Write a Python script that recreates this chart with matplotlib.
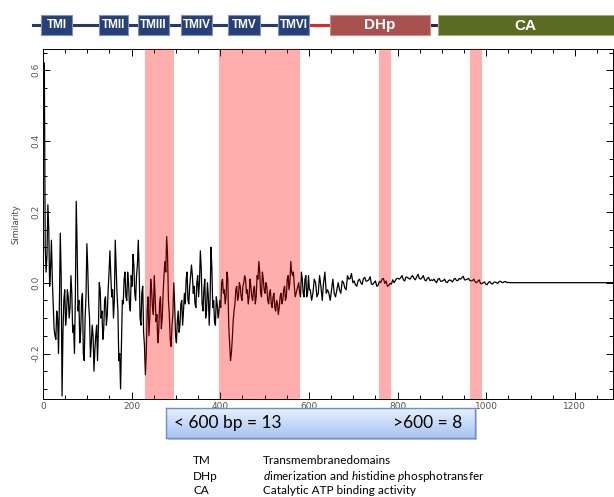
import numpy as np
import matplotlib.pyplot as plt
from matplotlib.patches import Rectangle
from matplotlib.colors import LinearSegmentedColormap
from matplotlib.ticker import MultipleLocator, FormatStrFormatter

plt.rcParams['mathtext.fontset'] = 'custom'
plt.rcParams['mathtext.rm'] = 'Lato'
plt.rcParams['mathtext.it'] = 'Lato:italic'

# similarity values
# x = 3, 7, 11 ... 599
sim_a = [0.62, 0.03, 0.22, -0.01, 0.12, -0.06, -0.15, -0.08, -0.20, 0.14,
         -0.32, -0.05, -0.12, -0.02, -0.10, 0.02, -0.14, -0.20, 0.23, -0.08,
         -0.17, -0.05, -0.20, -0.10, 0.11, -0.06, -0.21, -0.12, -0.25, -0.15,
         -0.22, 0.00, -0.10, -0.16, -0.05, -0.12, -0.02, 0.09, -0.04, -0.10,
         0.12, -0.03, -0.22, -0.30, -0.05, 0.01, -0.04, 0.03, -0.06, 0.02,
         0.08, -0.03, 0.02, 0.12, -0.10, -0.03, -0.14, -0.26, -0.08, -0.15,
         0.01, -0.07, 0.02, -0.11, -0.17, -0.06, -0.13, -0.03, 0.06, 0.13,
         -0.05, -0.16, -0.12, 0.00, -0.15, -0.11, -0.14, -0.06, -0.12, -0.03,
         0.01, -0.05, -0.01, 0.05, -0.03, -0.06, 0.00, -0.04, 0.09, -0.06,
         -0.02, -0.10, 0.00, -0.12, 0.10, -0.07, -0.11, -0.04, -0.10, -0.05,
         0.00, -0.03, -0.06, 0.03, -0.12, -0.22, -0.16, -0.08, -0.02, -0.05,
         0.00, -0.04, -0.01, 0.02, -0.03, -0.06, 0.01, -0.04, -0.02, -0.06,
         0.02, 0.06, -0.03, 0.03, -0.02, 0.00, -0.05, -0.03, -0.06, -0.04,
         -0.07, -0.05, -0.09, -0.04, -0.06, -0.02, -0.05, 0.01, -0.02, 0.06,
         0.02, -0.01, -0.03, -0.01, -0.03, 0.03, -0.03, 0.01, -0.04, 0.02]
# x = 5, 9, 13 ... 601
sim_a_mid = [0.10, 0.08, 0.15, 0.04, 0.01, -0.13, -0.16, -0.10, -0.06, 0.02,
             -0.14, -0.02, -0.09, -0.04, -0.07, -0.03, -0.12, -0.04, 0.10, -0.05,
             -0.14, -0.03, -0.22, -0.04, 0.04, -0.10, -0.17, -0.15, -0.19, -0.12,
             -0.13, -0.02, -0.08, -0.13, -0.04, -0.09, 0.03, 0.02, -0.02, -0.05,
             0.04, -0.08, -0.20, -0.18, -0.06, 0.03, -0.05, 0.00, -0.08, -0.01,
             0.05, -0.05, 0.05, 0.03, -0.12, -0.01, -0.18, -0.20, -0.04, -0.10,
             -0.02, -0.09, -0.04, -0.09, -0.14, -0.04, -0.10, 0.02, 0.03, 0.08,
             -0.09, -0.18, -0.09, -0.06, -0.17, -0.08, -0.12, -0.05, -0.08, -0.06,
             0.03, -0.06, 0.02, 0.02, -0.01, -0.07, 0.02, 0.00, 0.04, -0.08,
             0.01, -0.08, -0.04, -0.05, 0.04, -0.05, -0.12, -0.06, -0.08, -0.07,
             0.01, -0.02, -0.04, 0.01, -0.17, -0.20, -0.11, -0.06, -0.01, -0.04,
             -0.01, -0.05, 0.00, 0.01, -0.02, -0.04, -0.01, -0.05, -0.01, -0.04,
             0.01, 0.03, -0.04, 0.01, -0.03, -0.01, -0.06, -0.02, -0.07, -0.03,
             -0.08, -0.06, -0.07, -0.03, -0.05, -0.01, -0.04, 0.02, 0.00, 0.03,
             0.03, -0.04, -0.02, 0.00, -0.04, 0.01, -0.04, 0.02, -0.03, -0.02]
# x = 606, 612 ... 1050
sim_b = [-0.05, 0.01, -0.04, 0.02, -0.05, 0.03, -0.02, -0.05, 0.01, -0.04,
         0.00, -0.03, 0.00, -0.02, 0.01, 0.026, 0.005, -0.01, 0.01, -0.005,
         0.015, 0.005, 0.017, -0.005, 0.005, -0.008, 0.0, 0.012, 0.005, -0.008,
         -0.004, 0.0, 0.012, 0.01, 0.02, 0.005, 0.015, 0.01, 0.02, 0.008,
         0.024, 0.01, 0.02, 0.005, 0.015, 0.008, 0.01, 0.0, 0.012, 0.004,
         0.01, 0.0, 0.008, 0.002, 0.012, 0.006, 0.01, 0.018, 0.008, 0.012,
         0.005, 0.01, 0.0, 0.008, -0.003, 0.002, -0.006, 0.003, -0.004, 0.002,
         -0.002, 0.004, 0.0, 0.003, 0.001]
# x = 603, 609 ... 1047
sim_b_mid = [-0.02, -0.03, 0.00, -0.03, -0.01, 0.00, -0.03, -0.03, -0.02, -0.03,
             -0.02, -0.02, 0.005, -0.015, 0.02, 0.012, 0.0, -0.006, 0.006, 0.0,
             0.012, 0.004, 0.008, -0.004, 0.0, -0.01, 0.004, 0.01, -0.002, -0.01,
             -0.002, 0.008, 0.006, 0.012, 0.014, 0.008, 0.016, 0.012, 0.016, 0.012,
             0.016, 0.012, 0.014, 0.008, 0.012, 0.006, 0.006, 0.004, 0.01, 0.004,
             0.006, 0.002, 0.006, 0.005, 0.01, 0.006, 0.012, 0.014, 0.008, 0.01,
             0.006, 0.006, 0.002, 0.004, -0.002, 0.0, -0.004, 0.001, -0.002, 0.001,
             0.0, 0.003, 0.001, 0.003, 0.0]
pos_a = np.arange(3, 602, 2)
pos_b = np.arange(603, 1051, 3)
tail_pos = [1053, 1290]
tail_sim = [0.0, 0.0]

spans = [(230, 295), (397, 580), (758, 785), (963, 990)]

# domain bar (pixel coords of the header)
tm_names = ['TMI', 'TMII', 'TMIII', 'TMIV', 'TMV', 'TMVI']
tm_x = [(41, 72), (99, 128), (138, 169), (181, 212), (228, 260), (278, 309)]

fig = plt.figure(figsize=(6.14, 4.97), dpi=100)

# overlay in pixel coordinates for the annotations
ov = fig.add_axes([0, 0, 1, 1], zorder=0)
ov.set_xlim(0, 614)
ov.set_ylim(497, 0)
ov.axis('off')

ov.plot([33, 310], [25, 25], color='#283a6c', lw=2.2, zorder=1)
ov.plot([309, 331], [25, 25], color='#e02828', lw=2.2, zorder=1)
ov.plot([430, 439], [25, 25], color='#3a1d5c', lw=2.2, zorder=1)
for name, (a, b) in zip(tm_names, tm_x):
    ov.add_patch(Rectangle((a, 15), b - a, 20, fc='#27407a', ec='#8094bb', lw=0.8, zorder=2))
    ov.text((a + b) / 2, 25.5, name, color='white', fontsize=8.5, fontweight='bold',
            family='Liberation Sans', ha='center', va='center', zorder=3)
ov.add_patch(Rectangle((330, 15), 100, 20, fc='#a8514f', ec='#cf8c8a', lw=0.8, zorder=2))
ov.text(380, 25.5, 'DHp', color='white', fontsize=11, fontweight='bold',
        family='Liberation Sans', ha='center', va='center', zorder=3)
ov.add_patch(Rectangle((438, 15), 180, 20, fc='#5a6b22', ec='#a3ae74', lw=0.8, zorder=2))
ov.text(525, 25.5, 'CA', color='white', fontsize=11, fontweight='bold',
        family='Liberation Sans', ha='center', va='center', zorder=3)

# main plot
ax = fig.add_axes([43 / 614, 1 - 399 / 497, 570 / 614, 350 / 497], zorder=2)
sim_a_all = np.column_stack([sim_a, sim_a_mid]).ravel()
sim_b_all = np.column_stack([sim_b_mid, sim_b]).ravel()
pos = np.concatenate([pos_a, pos_b, tail_pos])
sim = np.concatenate([sim_a_all, sim_b_all, tail_sim])
ax.plot(pos, sim, color='black', lw=0.9, zorder=2.6)
for a, b in spans:
    ax.axvspan(a, b, color='red', alpha=0.32, lw=0, zorder=3)

ax.set_xlim(0, 1286)
ax.set_ylim(-0.3285, 0.66)
ax.xaxis.set_major_locator(MultipleLocator(200))
ax.xaxis.set_minor_locator(MultipleLocator(50))
ax.yaxis.set_major_locator(MultipleLocator(0.2))
ax.yaxis.set_minor_locator(MultipleLocator(0.05))
ax.yaxis.set_major_formatter(FormatStrFormatter('%.1f'))
ax.tick_params(which='both', direction='in', top=True, right=True,
               labelsize=6.5, labelcolor='#555555', width=0.7)
ax.tick_params(which='major', length=5)
ax.tick_params(which='minor', length=3)
ax.tick_params(axis='x', pad=2)
ax.tick_params(axis='y', pad=2, labelrotation=90)
for lbl in ax.get_yticklabels():
    lbl.set_va('center')
for s in ax.spines.values():
    s.set_linewidth(0.7)
ax.set_ylabel('Similarity', fontsize=6, color='#444444', labelpad=8)

# count box
ov.add_patch(Rectangle((168, 410), 309, 30, fc='#c8c8c8', ec='none', zorder=1))
bax = fig.add_axes([166 / 614, 1 - 438 / 497, 309 / 614, 30 / 497], zorder=3)
grad = np.linspace(0, 1, 50).reshape(-1, 1)
cmap = LinearSegmentedColormap.from_list('box', ['#e8f0fd', '#a7c4f1'])
bax.imshow(grad, aspect='auto', cmap=cmap, extent=[0, 1, 0, 1])
bax.set_xticks([])
bax.set_yticks([])
for s in bax.spines.values():
    s.set_color('#6d8ecb')
    s.set_linewidth(1.0)
bax.text(0.025, 0.5, '< 600 bp = 13', fontsize=12.5, family='Lato',
         va='center', ha='left', transform=bax.transAxes)
bax.text(0.958, 0.5, '>600 = 8', fontsize=12.5, family='Lato',
         va='center', ha='right', transform=bax.transAxes)

# abbreviations
abbr = ['TM', 'DHp', 'CA']
meaning = ['Transmembranedomains',
           r'$\mathit{d}$imerization and $\mathit{h}$istidine $\mathit{p}$hosphotransfer',
           'Catalytic ATP binding activity']
for i, (k, v) in enumerate(zip(abbr, meaning)):
    y = 461 + i * 15
    ov.text(193, y, k, fontsize=8.5, family='Lato', va='center')
    ov.text(263, y, v, fontsize=8.5, family='Lato', va='center')

fig.savefig('out.png', dpi=100)
